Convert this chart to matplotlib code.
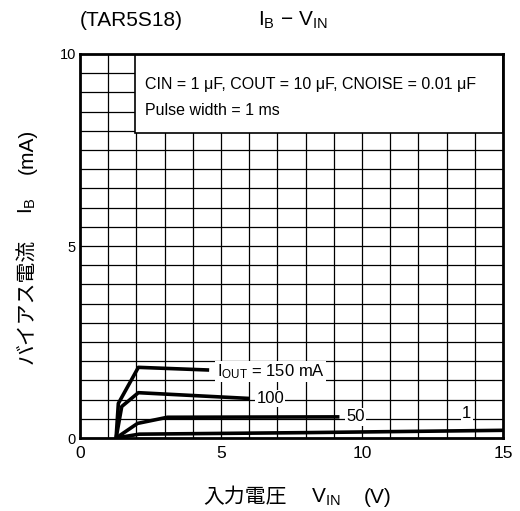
import numpy as np
import matplotlib.pyplot as plt
from matplotlib.patches import Rectangle

plt.rcParams['font.family'] = ['Liberation Sans', 'Noto Sans CJK JP', 'DejaVu Sans']
plt.rcParams['mathtext.fontset'] = 'custom'
plt.rcParams['mathtext.rm'] = 'Liberation Sans'
plt.rcParams['mathtext.it'] = 'Liberation Sans'

# Curvas IB - VIN para cada IOUT (V, mA)
vin_150 = [1.28, 1.36, 2.07, 4.58]
ib_150 = [0.0, 0.90, 1.84, 1.77]
vin_100 = [1.28, 1.48, 2.07, 6.0]
ib_100 = [0.0, 0.82, 1.18, 1.03]
vin_50 = [1.28, 2.04, 3.1, 9.2]
ib_50 = [0.0, 0.38, 0.54, 0.55]
vin_1 = [1.28, 2.1, 8.0, 15.0]
ib_1 = [0.0, 0.10, 0.14, 0.20]

curves = [(vin_150, ib_150), (vin_100, ib_100), (vin_50, ib_50), (vin_1, ib_1)]

W, H = 520, 511
fig = plt.figure(figsize=(W / 100, H / 100), dpi=100)
ax = fig.add_axes([80 / W, 1 - 438 / H, 423 / W, 384 / H])
ax.set_xlim(0, 15)
ax.set_ylim(0, 10)

# Grade
for x in np.arange(1, 15, 1):
    ax.axvline(x, color='k', lw=0.9, zorder=1)
for y in np.arange(0.5, 10, 0.5):
    ax.axhline(y, color='k', lw=0.9, zorder=1)

# Caixa de condições
ax.add_patch(Rectangle((1.95, 7.95), 13.05, 2.05, facecolor='white',
                       edgecolor='k', lw=1.2, zorder=3))
ax.text(2.3, 9.2, 'CIN = 1 \u03bcF, COUT = 10 \u03bcF, CNOISE = 0.01 \u03bcF',
        fontsize=11.5, va='center', zorder=4)
ax.text(2.3, 8.52, 'Pulse width = 1 ms', fontsize=11.5, va='center', zorder=4)

for vx, iy in curves:
    ax.plot(vx, iy, color='k', lw=2.6, zorder=5, solid_capstyle='butt')

bbox = dict(facecolor='white', edgecolor='none', pad=1)
ax.text(4.85, 1.74, r'$\mathregular{I_{OUT}}$ = 150 mA', fontsize=12, va='center',
        bbox=bbox, zorder=6)
ax.text(6.25, 1.03, '100', fontsize=12, va='center', bbox=bbox, zorder=6)
ax.text(9.45, 0.55, '50', fontsize=12, va='center', bbox=bbox, zorder=6)
ax.text(13.55, 0.64, '1', fontsize=12, va='center', bbox=bbox, zorder=6)

ax.set_xticks([0, 5, 10, 15])
ax.set_yticks([0, 5, 10])
ax.tick_params(axis='x', direction='in', length=0, labelsize=12.5, pad=6)
ax.tick_params(axis='y', direction='in', length=0, labelsize=10.5, pad=3)
for s in ax.spines.values():
    s.set_linewidth(2)
    s.set_zorder(7)

def px(x, y):
    return x / W, 1 - y / H

fig.text(*px(80, 20), '(TAR5S18)', fontsize=15, va='center')
fig.text(*px(258, 20), r'$\mathregular{I_B}$ \u2212 $\mathregular{V_{IN}}$'.replace('\\u2212', '\u2212'),
         fontsize=15, va='center')

# Rótulo do eixo x
fig.text(*px(245, 497), '入力電圧', fontsize=15, ha='center', va='center')
fig.text(*px(326, 497), r'$\mathregular{V_{IN}}$', fontsize=15, ha='center', va='center')
fig.text(*px(378, 497), '(V)', fontsize=15, ha='center', va='center')

# Rótulo do eixo y
fig.text(*px(27, 301), 'バイアス電流', fontsize=15, ha='center', va='center', rotation=90)
fig.text(*px(27, 206), r'$\mathregular{I_B}$', fontsize=15, ha='center', va='center', rotation=90)
fig.text(*px(27, 151), '(mA)', fontsize=15, ha='center', va='center', rotation=90)

fig.savefig('out.png', dpi=100)
